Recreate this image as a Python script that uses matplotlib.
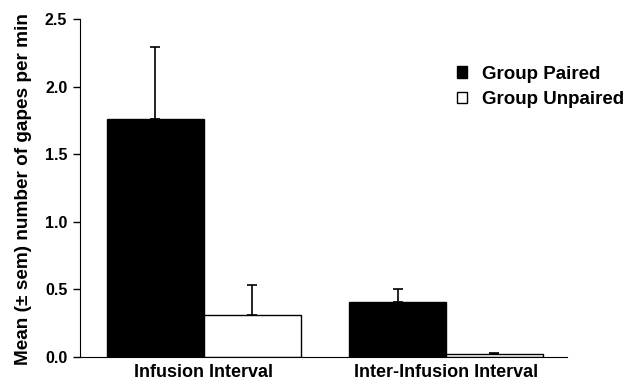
import matplotlib.pyplot as plt
from matplotlib.patches import Patch

plt.rcParams['font.family'] = ['Liberation Sans', 'DejaVu Sans']
plt.rcParams['font.weight'] = 'bold'

groups = ["Infusion Interval", "Inter-Infusion Interval"]
paired = [1.76, 0.41]
paired_sem = [0.53, 0.095]
unpaired = [0.31, 0.025]
unpaired_sem = [0.22, 0.005]

fig = plt.figure(figsize=(6.33, 3.84), dpi=100)
ax = fig.add_axes([0.126, 0.0703, 0.77, 0.8802])

w = 0.4
x = [0, 1]
xp = [i - w / 2 for i in x]
xu = [i + w / 2 for i in x]
ekw = dict(ecolor='black', elinewidth=1.2, capsize=3.5, capthick=1.2)
ax.bar(xp, paired, w, color='black', edgecolor='black', linewidth=1,
       yerr=[[0, 0], paired_sem], error_kw=ekw)
ax.bar(xu, unpaired, w, color='white', edgecolor='black', linewidth=1,
       yerr=[[0, 0], unpaired_sem], error_kw=ekw)

ax.set_xlim(-0.512, 1.5)
ax.set_ylim(0, 2.5)
ax.set_yticks([0, 0.5, 1.0, 1.5, 2.0, 2.5])
ax.set_yticklabels(['0.0', '0.5', '1.0', '1.5', '2.0', '2.5'], fontsize=11.5, fontweight='bold')
ax.set_xticks(x)
ax.set_xticklabels(groups, fontsize=13, fontweight='bold')
ax.tick_params(axis='x', length=0, pad=5)
ax.tick_params(axis='y', length=5, width=1, direction='out', pad=4)
ax.spines['top'].set_visible(False)
ax.spines['right'].set_visible(False)
ax.set_ylabel('Mean (± sem) number of gapes per min', fontsize=13.7, fontweight='bold', labelpad=8)
ax.yaxis.set_label_coords(-0.097, 0.497)

handles = [Patch(facecolor='black', edgecolor='black', label='Group Paired'),
           Patch(facecolor='white', edgecolor='black', label='Group Unpaired')]
leg = ax.legend(handles=handles, loc='upper left', bbox_to_anchor=(0.774, 0.862), frameon=False,
                borderpad=0, borderaxespad=0,
                handlelength=0.55, handleheight=0.55, handletextpad=0.8, labelspacing=0.45,
                prop=dict(size=13.5, weight='bold'))

fig.savefig('out.png', dpi=100)
